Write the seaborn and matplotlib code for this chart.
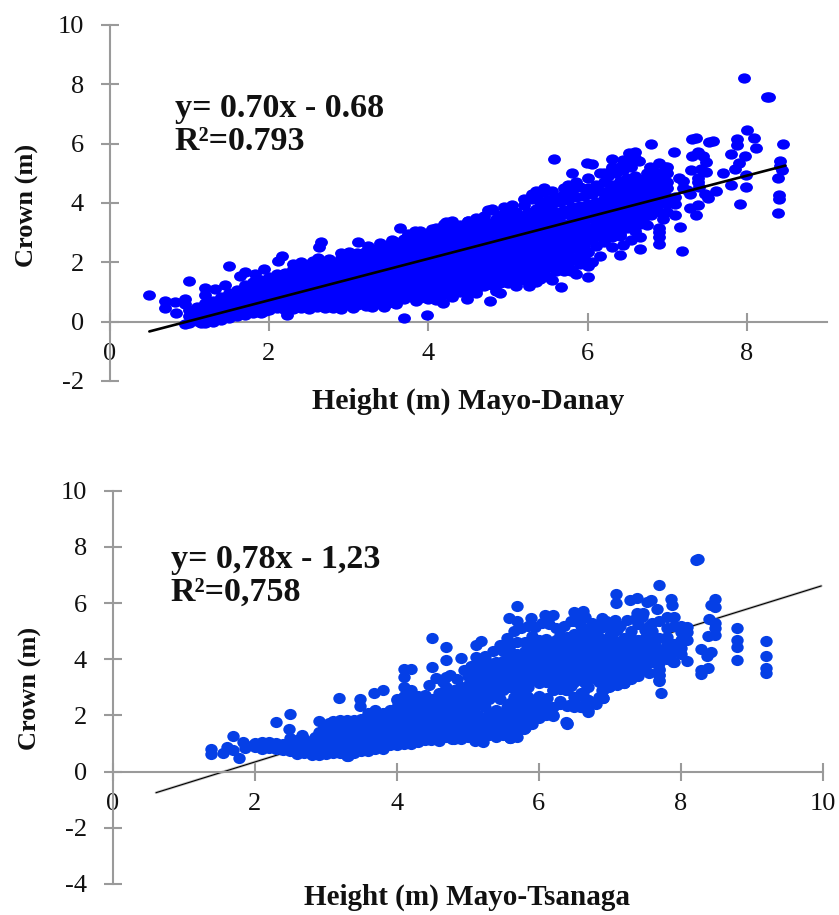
import matplotlib
matplotlib.use("Agg")
import matplotlib.pyplot as plt
import pandas as pd
import seaborn as sns
from matplotlib.markers import MarkerStyle
from matplotlib.path import Path
from matplotlib.transforms import Affine2D

# ---- Mayo-Danay: crown readings grouped by height
danay_heights = [1.0,1.1,1.2,1.3,1.4,1.5,1.6,1.7,1.8,1.9,2.0,2.1,2.2,2.3,2.4,2.5,2.6,2.7,2.8,2.9,
                 3.0,3.1,3.2,3.3,3.4,3.5,3.6,3.7,3.8,3.9,4.0,4.1,4.2,4.3,4.4,4.5,4.6,4.7,4.8,4.9,
                 5.0,5.1,5.2,5.3,5.4,5.5,5.6,5.7,5.8,5.9,6.0,6.1,6.2,6.3,6.4,6.5,6.6,6.7,6.8,6.9,7.0]
danay_crowns = [
 [-0.05,0.2,0.4],[0.02,0.28,0.5],[-0.04,0.18,0.42,0.62],[0.0,0.25,0.5,0.7],[0.05,0.3,0.58,0.82],
 [0.12,0.38,0.65,0.95],[0.2,0.45,0.72,1.08],[0.24,0.5,0.82,1.05,1.25],[0.28,0.55,0.8,1.1,1.35],
 [0.3,0.6,0.88,1.15,1.42],[0.4,0.68,0.95,1.22,1.5],[0.45,0.7,1.0,1.3,1.6],[0.4,0.72,1.02,1.33,1.65],
 [0.42,0.75,1.08,1.42,1.76],[0.45,0.78,1.12,1.48,1.9],[0.46,0.8,1.15,1.55,1.95],[0.5,0.85,1.2,1.6,2.0],
 [0.45,0.78,1.1,1.45,1.72,1.95],[0.46,0.82,1.15,1.5,1.8,1.98],[0.5,0.85,1.2,1.55,1.85,2.15],
 [0.55,0.88,1.22,1.58,1.9,2.25],[0.56,0.9,1.25,1.6,1.95,2.3],[0.58,0.95,1.3,1.65,2.0,2.35],
 [0.62,0.98,1.32,1.7,2.05,2.45],[0.6,1.0,1.35,1.75,2.15,2.55],[0.64,1.02,1.38,1.78,2.2,2.6],
 [0.75,1.1,1.45,1.82,2.25,2.7],[0.78,1.12,1.48,1.88,2.3,2.8],[0.82,1.18,1.52,1.92,2.35,2.65,2.9],
 [0.8,1.2,1.58,1.95,2.3,2.7,2.95],[0.76,1.15,1.55,1.98,2.38,2.72,3.0],[0.9,1.25,1.6,2.0,2.42,2.8,3.15],
 [0.92,1.28,1.65,2.05,2.45,2.85,3.3],[0.95,1.3,1.7,2.1,2.5,2.9,3.2],[1.0,1.35,1.72,2.12,2.55,2.95,3.25],
 [1.02,1.4,1.78,2.18,2.6,3.0,3.4],[1.08,1.45,1.82,2.22,2.62,3.05,3.35],[1.2,1.55,1.9,2.3,2.7,3.1,3.55],
 [1.25,1.6,1.95,2.35,2.75,3.2,3.78],[1.3,1.65,2.0,2.4,2.82,3.25,3.6],[1.32,1.7,2.05,2.45,2.9,3.3,3.72],
 [1.35,1.72,2.1,2.5,2.95,3.35,3.7],[1.4,1.78,2.15,2.55,3.0,3.45,3.92],[1.5,1.85,2.2,2.6,3.05,3.5,4.15],
 [1.55,1.9,2.28,2.7,3.12,3.58,4.05,4.35],[1.5,1.95,2.35,2.78,3.2,3.65,4.1],[1.7,2.05,2.42,2.85,3.25,3.7,4.2],
 [1.7,2.1,2.5,2.9,3.3,3.75,4.3],[1.75,2.15,2.55,2.95,3.4,3.85,4.4],[1.95,2.3,2.65,3.0,3.45,3.9,4.55],
 [1.95,2.35,2.75,3.1,3.5,3.95,4.5],[2.55,2.95,3.3,3.65,4.05,4.6],[2.7,3.05,3.4,3.75,4.15,4.72,5.0],
 [2.85,3.1,3.45,3.8,4.2,4.62,5.15],[2.95,3.2,3.55,3.9,4.3,4.75,5.2],[3.15,3.45,3.75,4.05,4.4,4.85,5.32],
 [3.3,3.55,3.85,4.15,4.48,4.9,5.5],[3.4,3.7,3.95,4.2,4.55,4.8],[3.6,3.8,4.05,4.3,4.6,4.85],
 [3.7,3.95,4.2,4.45,4.7,4.95],[3.7,3.95,4.2,4.5,4.72,5.0],
]
danay_heights_b = [1.05,1.15,1.25,1.35,1.45,1.55,1.65,1.75,1.85,1.95,2.05,2.15,2.25,2.35,2.45,2.55,2.65,2.75,2.85,2.95,
                   3.05,3.15,3.25,3.35,3.45,3.55,3.65,3.75,3.85,3.95,4.05,4.15,4.25,4.35,4.45,4.55,4.65,4.75,4.85,4.95,
                   5.05,5.15,5.25,5.35,5.45,5.55,5.65,5.75,5.85,5.95,6.05,6.15,6.25,6.35,6.45,6.55,6.65,6.75]
danay_crowns_b = [
 [0.1,0.33],[0.1,0.35],[0.12,0.38,0.55],[0.15,0.4,0.62],[0.18,0.45,0.7],[0.25,0.52,0.8],[0.32,0.6,0.9],
 [0.38,0.66,0.95,1.15],[0.42,0.7,0.98,1.22],[0.48,0.78,1.05,1.3],[0.55,0.82,1.12,1.38],[0.58,0.85,1.18,1.45],
 [0.58,0.9,1.22,1.5],[0.6,0.92,1.28,1.6],[0.62,0.98,1.32,1.7],[0.65,1.0,1.38,1.75],[0.68,1.02,1.4,1.8],
 [0.62,0.95,1.28,1.6,1.85],[0.65,1.0,1.35,1.68,1.92],[0.7,1.05,1.4,1.72,2.0],[0.72,1.08,1.42,1.75,2.08],
 [0.75,1.1,1.45,1.78,2.12],[0.8,1.12,1.5,1.85,2.2],[0.8,1.18,1.52,1.9,2.28],[0.82,1.2,1.58,1.95,2.35],
 [0.9,1.25,1.62,2.0,2.42],[0.95,1.3,1.65,2.05,2.48],[0.98,1.32,1.7,2.1,2.52],[1.0,1.38,1.75,2.15,2.55],
 [1.0,1.4,1.78,2.15,2.52,2.82],[1.02,1.38,1.78,2.2,2.58,2.88],[1.08,1.45,1.82,2.22,2.62,3.0],[1.12,1.5,1.88,2.28,2.68,3.05],
 [1.15,1.52,1.92,2.3,2.72,3.08],[1.2,1.58,1.95,2.35,2.78,3.12],[1.25,1.62,2.0,2.4,2.82,3.2],[1.3,1.68,2.05,2.45,2.88,3.25],
 [1.38,1.72,2.1,2.5,2.92,3.32],[1.42,1.78,2.15,2.55,3.0,3.45],[1.48,1.82,2.2,2.6,3.05,3.42],[1.52,1.9,2.28,2.72,3.12,3.52],
 [1.58,1.92,2.3,2.72,3.15,3.55],[1.65,2.0,2.38,2.8,3.25,3.7],[1.7,2.1,2.48,2.9,3.32,3.8],[1.72,2.15,2.55,3.0,3.42,3.88],
 [1.88,2.25,2.62,3.05,3.48,3.95],[1.92,2.3,2.7,3.1,3.55,4.02],[1.95,2.35,2.72,3.18,3.62,4.1],[2.12,2.48,2.82,3.22,3.68,4.2],
 [2.15,2.55,2.92,3.3,3.72,4.25],[2.75,3.12,3.48,3.85,4.3],[2.88,3.22,3.58,3.95,4.4],[3.0,3.3,3.65,4.02,4.42,4.9],
 [3.05,3.38,3.72,4.1,4.52,5.0],[3.3,3.6,3.9,4.22,4.62,5.1],[3.45,3.72,4.02,4.32,4.7,5.2],[3.55,3.82,4.08,4.38,4.72],
 [3.7,3.92,4.18,4.45,4.75],
]
danay_extra_height = [0.5,0.7,0.7,0.82,0.84,0.95,0.95,1.0,0.95,1.15,1.2,1.2,1.32,1.45,1.5,1.7,1.64,1.82,1.94,
 2.17,2.12,2.65,2.63,2.62,3.12,3.64,3.83,2.23,1.95,3.69,3.44,3.22,
 7.96,8.25,8.28,8.0,8.09,7.88,8.11,7.88,8.45,8.41,8.41,8.44,8.39,8.4,8.4,8.39,7.91,7.99,7.8,7.97,7.8,7.85,7.9,7.99,
 7.7,7.61,7.51,7.47,7.36,7.29,7.38,7.28,7.57,7.52,7.36,7.31,7.31,7.38,7.45,7.49,7.3,7.49,7.38,7.38,7.2,7.09,6.8,
 7.18,7.16,7.1,7.1,6.89,6.89,6.89,6.89,6.66,6.66,6.66,6.59,6.41,6.41,6.01,6.0,5.67,5.79,5.4,5.27,4.9,4.77,4.49,4.19,
 3.98,5.58,5.99,6.05,6.3,6.52,6.6,6.78,6.9,6.97,5.81,5.75,5.47,5.3,4.8,4.5,4.22,7.1,7.2,7.15,7.05,6.95,7.4,7.25,7.42]
danay_extra_crown = [0.89,0.68,0.45,0.65,0.3,0.78,0.6,1.36,-0.08,-0.05,1.13,0.9,1.1,1.25,1.87,1.67,1.55,1.6,1.77,
 2.21,2.05,2.7,2.53,2.13,2.67,3.17,3.07,0.22,0.35,0.13,0.5,0.52,
 8.2,7.56,7.58,6.45,6.19,6.16,5.84,5.95,5.99,5.41,5.25,5.1,4.83,4.27,4.15,3.66,3.95,4.54,4.62,5.58,5.65,5.15,5.35,4.95,
 5.0,4.39,4.16,4.32,3.6,3.82,3.93,4.3,6.1,6.05,6.18,6.15,5.57,5.72,5.6,5.37,5.1,5.05,4.85,4.7,4.75,5.71,5.99,
 2.37,3.2,3.6,3.95,3.15,3.03,2.85,2.63,2.44,2.85,3.3,3.05,2.25,2.9,1.5,1.88,1.18,1.7,1.44,1.2,0.96,0.7,0.75,0.62,
 0.24,5.48,5.35,5.3,5.49,5.69,5.71,5.21,5.35,5.22,5.0,4.6,4.4,4.3,3.8,3.39,3.37,4.2,4.5,4.85,4.05,4.9,4.55,4.45,5.15]
danay_fringe_height = [2.3,2.4,2.55,2.75,2.9,3.0,3.25,3.4,3.55,3.75,3.9,4.05,4.3,4.6,4.75,4.95,5.05,5.2,5.35,5.45,5.55,5.7,5.85,6.0,6.15,6.3,6.45,6.55,6.65,6.75,6.85,7.0,
 2.5,2.9,3.05,3.3,3.6,3.85,4.1,4.3,4.6,4.85,5.1,5.35,5.55,5.85,6.05,6.15,6.3,6.45,6.55,6.75,6.95]
danay_fringe_crown = [1.95,2.02,2.05,2.1,2.3,2.35,2.55,2.65,2.75,2.95,3.05,3.12,3.4,3.5,3.75,3.85,3.92,4.15,4.4,4.5,4.42,4.5,4.7,4.85,5.0,5.2,5.45,5.55,5.4,5.0,5.05,5.2,
 0.42,0.42,0.45,0.5,0.58,0.68,0.72,0.82,0.95,1.05,1.2,1.35,1.4,1.6,2.0,2.2,2.5,2.6,2.75,3.25,3.45]
danay_line_x = [0.5, 8.48]
danay_line_y = [-0.33, 5.26]

# ---- Mayo-Tsanaga: crown readings grouped by height
tsanaga_heights = [2.0,2.1,2.2,2.3,2.4,2.5,2.6,2.7,2.8,2.9,3.0,3.1,3.2,3.3,3.4,3.5,3.6,3.7,3.8,3.9,
                   4.0,4.1,4.2,4.3,4.4,4.5,4.6,4.7,4.8,4.9,5.0,5.1,5.2,5.3,5.4,5.5,5.6,5.7,5.8,5.9,
                   6.0,6.1,6.2,6.3,6.4,6.5,6.6,6.7,6.8,6.9,7.0,7.1,7.2,7.3,7.4,7.5,7.6,7.7,7.8,7.9,8.0]
tsanaga_crowns = [
 [0.88,1.02],[0.82,1.05],[0.85,1.04],[0.82,1.02],[0.78,1.0],[0.72,0.98,1.18],[0.62,0.85,1.12],[0.65,0.9,1.15],
 [0.6,0.82,1.05],[0.6,0.85,1.1,1.4],[0.62,0.9,1.2,1.62],[0.68,0.95,1.25,1.55,1.8],[0.66,0.95,1.25,1.55,1.82],
 [0.55,0.85,1.15,1.5,1.85],[0.68,0.98,1.3,1.6,1.85],[0.72,1.02,1.35,1.65,1.86],[0.72,1.05,1.35,1.7,2.1],
 [0.82,1.1,1.42,1.75,2.2],[0.82,1.12,1.45,1.8,2.1],[0.95,1.25,1.55,1.85,2.2],[0.95,1.25,1.55,1.88,2.3,2.55],
 [0.98,1.3,1.6,1.92,2.3,2.7,3.0],[1.0,1.32,1.65,1.95,2.25,2.6,2.92],[1.05,1.35,1.7,2.0,2.35,2.7],
 [1.12,1.42,1.75,2.05,2.4,2.72],[1.15,1.48,1.8,2.1,2.45,2.6],[1.18,1.5,1.85,2.15,2.5,2.8],[1.22,1.55,1.85,2.2,2.6,3.0],
 [1.15,1.5,1.9,2.25,2.55,2.9],[1.3,1.6,1.95,2.3,2.7,2.82],[1.28,1.55,1.9,2.4,2.75,3.1,3.4],[1.42,1.7,2.3,2.7,3.05,3.35,3.62],
 [1.1,1.5,1.85,2.55,2.85,3.15,3.5,3.75,4.0],[1.52,1.8,2.05,2.6,2.95,3.2,3.55,3.85],[1.45,1.7,2.2,2.75,3.05,3.3,3.6,3.9],
 [1.42,1.75,2.05,2.9,3.15,3.4,3.65,3.95,4.3],[1.2,1.5,1.8,2.15,2.45,3.0,3.25,3.5,3.8,4.1,4.5],[1.45,1.72,2.0,2.35,2.75,3.1,3.4,3.7,3.95,4.2,4.62],
 [1.55,1.85,2.15,2.5,2.8,3.2,3.45,3.7,4.0,4.3,4.6],[1.95,2.2,2.55,3.3,3.55,3.8,4.05,4.35,4.82],[2.1,2.35,2.7,3.15,3.4,3.65,3.9,4.15,4.42,4.7],
 [2.0,2.6,3.2,3.45,3.7,3.95,4.2,4.5,4.72],[2.0,2.9,3.25,3.5,3.75,4.0,4.25,4.55],[2.4,2.95,3.3,3.55,3.8,4.05,4.3,4.6,4.85],
 [1.72,2.35,2.9,3.15,3.45,3.7,3.95,4.2,4.5,4.8],[2.3,2.65,3.2,3.45,3.75,4.05,4.3,4.6,4.9,5.35],[2.3,2.8,3.25,3.5,3.8,4.1,4.35,4.65,4.95,5.2],
 [2.2,2.55,3.0,3.3,3.55,3.85,4.15,4.4,4.7,5.0],[3.3,3.6,3.85,4.15,4.45,4.72,4.98],[2.62,2.92,3.3,3.55,3.85,4.1,4.4,4.65,5.15],
 [3.05,3.3,3.55,3.8,4.05,4.3,4.6,4.85],[3.35,3.6,3.85,4.1,4.35,4.6,5.05],[3.15,3.5,3.75,4.0,4.25,4.5,4.75],
 [3.45,3.7,3.95,4.2,4.45,4.75,5.0],[3.5,3.72,3.98,4.2,4.45,4.7,5.25],[3.7,3.92,4.15,4.4,4.75,5.05],
 [3.9,4.1,4.3,4.62,5.0,5.3],[3.25,3.45,3.65,3.9,4.1,4.35,4.75,5.35],[4.0,4.28,4.5,4.78,5.12,5.5],
 [3.92,4.25,4.55,5.18,5.5],[4.2,4.4,4.7,4.98,5.2],
]
tsanaga_heights_b = [2.85,2.95,3.05,3.15,3.25,3.35,3.45,3.55,3.65,3.75,3.85,3.95,4.05,4.15,4.25,4.35,4.45,4.55,4.65,4.75,
                     4.85,4.95,5.05,5.15,5.25,5.35,5.45,5.55,5.65,5.75,5.85,5.95,6.05,6.15,6.25,6.35,6.45,6.55,6.65,6.75,
                     6.85,6.95,7.05,7.15,7.25,7.35,7.45]
tsanaga_crowns_b = [
 [0.72,0.95,1.22],[0.75,1.0,1.3],[0.78,1.05,1.38,1.72],[0.82,1.1,1.42,1.7],[0.8,1.1,1.4,1.7],[0.7,1.0,1.32,1.68],
 [0.85,1.15,1.45,1.75],[0.88,1.2,1.5,1.78],[0.9,1.22,1.55,1.92],[0.98,1.28,1.6,1.98],[1.0,1.3,1.62,1.95],
 [1.1,1.4,1.7,2.05],[1.12,1.42,1.72,2.1,2.4],[1.15,1.48,1.78,2.12,2.5],[1.18,1.5,1.82,2.1,2.45],[1.22,1.55,1.85,2.2,2.55],
 [1.28,1.6,1.9,2.22,2.58],[1.32,1.65,1.98,2.3],[1.35,1.68,2.0,2.35,2.65],[1.38,1.7,2.05,2.4,2.8],[1.35,1.72,2.08,2.42,2.75],
 [1.45,1.78,2.12,2.5],[2.1,2.5,2.92,3.25],[1.55,2.0,2.5,2.88,3.2,3.5],[1.7,2.3,2.7,3.0,3.38,3.62],[1.65,1.95,2.75,3.1,3.45,3.72],
 [1.6,1.9,2.6,2.95,3.2,3.5,3.75],[1.62,1.95,2.3,3.1,3.38,3.62,3.95],[1.35,1.65,2.0,2.3,2.65,3.25,3.55,3.85,4.2],
 [1.6,1.9,2.2,2.6,2.95,3.3,3.6,3.85,4.1],[1.7,2.0,2.3,2.65,3.0,3.35,3.6,3.85,4.15],[2.05,2.4,3.4,3.68,3.92,4.2,4.5],
 [3.3,3.52,3.78,4.0,4.28,4.55],[3.35,3.6,3.85,4.1,4.35,4.62],[3.15,3.4,3.65,3.9,4.15,4.4,4.7],[3.3,3.58,3.85,4.1,4.35,4.68],
 [3.05,3.3,3.58,3.82,4.08,4.35,4.65],[3.35,3.6,3.9,4.2,4.45,4.75],[3.15,3.4,3.68,3.95,4.22,4.5,4.8],[3.45,3.7,4.0,4.28,4.55,4.85],
 [3.2,3.45,3.72,3.98,4.25,4.52,4.8],[3.45,3.7,3.95,4.22,4.5],[3.4,3.68,3.92,4.18,4.45,4.72],[3.45,3.72,3.98,4.22,4.48],
 [3.55,3.8,4.05,4.3,4.55],[3.6,3.85,4.1,4.35,4.6],[3.75,4.0,4.25,4.5],
]
tsanaga_extra_height = [1.39,1.39,1.56,1.61,1.69,1.7,1.78,1.84,1.86,1.98,2.3,2.5,2.49,2.66,2.5,2.9,3.19,3.49,3.49,3.68,3.8,
 4.1,4.2,4.1,4.0,3.31,8.24,8.21,7.69,7.09,7.09,7.29,7.38,7.53,7.58,7.86,7.88,7.67,5.69,5.58,5.89,5.7,6.09,6.2,6.5,6.62,6.89,
 7.08,7.39,7.47,8.49,8.42,8.49,8.4,8.49,8.49,8.49,8.38,8.09,8.09,8.09,8.79,8.79,8.79,8.79,9.2,9.2,9.2,9.2,8.29,8.42,8.37,
 8.39,8.29,8.29,8.09,7.89,7.72,7.69,7.7,7.7,7.69,7.69,7.2,6.99,6.91,6.89,6.7,6.59,6.7,6.63,6.4,6.38,6.2,6.09,6.12,6.42,6.38,6.2,
 4.5,4.7,4.7,4.9,5.11,5.19,5.11,4.5,4.7,4.9,5.22,5.6,4.78,4.48,5.0,5.79]
tsanaga_extra_crown = [0.79,0.62,0.65,0.89,1.28,0.77,0.47,1.07,0.83,0.95,1.78,2.05,1.5,1.3,0.77,1.81,2.61,2.57,2.34,2.81,2.9,
 3.67,3.67,3.38,2.6,0.56,7.57,7.55,6.63,6.31,6.01,6.11,6.17,6.05,6.11,6.13,5.93,5.78,5.9,5.48,5.46,5.37,5.58,5.56,5.69,5.72,5.46,
 5.4,5.63,5.63,6.13,5.93,5.85,5.42,5.28,5.1,4.86,4.83,5.14,4.98,4.69,5.12,4.69,4.45,3.97,4.65,4.12,3.68,3.52,4.35,4.27,4.12,
 3.7,3.62,3.48,3.95,3.91,2.79,3.24,3.44,3.62,3.86,4.09,3.17,3.0,2.61,2.9,2.14,2.31,2.55,2.79,1.7,1.75,1.99,2.02,2.61,2.37,2.9,2.9,
 4.74,4.42,3.97,4.03,4.5,4.66,4.09,3.74,3.36,3.02,1.07,1.19,1.15,1.13,1.25,1.52]
tsanaga_fringe_height = [4.45,4.55,4.65,4.75,4.85,4.95,5.05,5.15,5.25,5.35,5.45,5.55,5.65,5.75,5.85,5.95,6.05,6.15,6.25,6.35,6.45,6.55,6.65,6.75,6.85,6.95,7.05,7.15,7.25,7.35,7.45,7.55,
 5.3,5.4,5.5,5.7,5.9,6.0,6.1,6.2,6.3,6.5,6.6,6.8,6.85,7.0,7.1,7.2,7.3,7.4,7.55,4.6,4.9,5.1,5.2]
tsanaga_fringe_crown = [3.1,3.35,3.2,3.45,3.3,3.6,3.75,3.9,4.1,4.3,4.5,4.75,5.0,5.1,5.2,5.15,5.3,5.25,5.1,5.2,5.35,5.5,5.5,5.3,5.25,5.35,5.1,5.2,5.4,5.45,5.5,5.2,
 1.3,1.25,1.3,1.25,1.7,1.9,2.3,2.3,2.5,2.45,2.7,2.4,2.65,3.2,3.1,3.35,3.3,3.4,3.5,1.1,1.15,1.1,1.35]
tsanaga_line_x = [0.61, 9.98]
tsanaga_line_y = [-0.75, 6.61]

x_label_top = "Height (m) Mayo-Danay"
x_label_bottom = "Height (m) Mayo-Tsanaga"
y_label = "Crown (m)"
top_yticks = [-2, 0, 2, 4, 6, 8, 10]
top_xticks = [0, 2, 4, 6, 8]
bottom_yticks = [-4, -2, 0, 2, 4, 6, 8, 10]
bottom_xticks = [0, 2, 4, 6, 8, 10]


def flatten(*groups):
    xs, ys = [], []
    for heights, crowns in groups:
        for h, col in zip(heights, crowns):
            for c in (col if isinstance(col, list) else [col]):
                xs.append(h)
                ys.append(c)
    return pd.DataFrame({"height": xs, "crown": ys})


sns.set_style("white")
plt.rcParams["font.family"] = ["Liberation Serif", "DejaVu Serif"]
plt.rcParams["axes.unicode_minus"] = False

W, H = 839, 915
fig = plt.figure(figsize=(W / 100, H / 100), dpi=100)


def make_axes(l, r, t, b):
    return fig.add_axes([l / W, 1 - b / H, (r - l) / W, (b - t) / H])


ellipse = MarkerStyle(Path.unit_circle().transformed(Affine2D().scale(1.0, 0.8)))
ellipse2 = MarkerStyle(Path.unit_circle().transformed(Affine2D().scale(1.0, 0.9)))
GRAY = "#9a9a9a"


def style(ax, xlim, ylim, xticks, yticks):
    ax.set_xlim(*xlim)
    ax.set_ylim(*ylim)
    ax.set_xticks(xticks)
    ax.set_yticks(yticks)
    ax.patch.set_alpha(0)
    for s in ["top", "right"]:
        ax.spines[s].set_visible(False)
    ax.spines["bottom"].set_position(("data", 0))
    for s in ["left", "bottom"]:
        ax.spines[s].set_color(GRAY)
        ax.spines[s].set_linewidth(1.5)
    ax.tick_params(axis="x", direction="inout", length=13, width=1.5, color=GRAY,
                   pad=9, labelsize=19, labelcolor="#111111", bottom=True)
    ax.tick_params(axis="y", direction="inout", length=13, width=1.5, color=GRAY,
                   pad=12, labelsize=19, labelcolor="#111111", left=True)
    ax.set_ylabel("")
    ax.set_xlabel("")


# top panel
ax1 = make_axes(109.5, 826.7, 25, 381)
sns.scatterplot(data=flatten((danay_heights, danay_crowns), (danay_heights_b, danay_crowns_b),
                             (danay_extra_height, danay_extra_crown),
                             (danay_fringe_height, danay_fringe_crown)),
                x="height", y="crown", ax=ax1, color="#0000FF", marker=ellipse, s=86,
                linewidth=0, zorder=3, clip_on=False, legend=False)
sns.lineplot(x=danay_line_x, y=danay_line_y, ax=ax1, color="black", linewidth=1.9,
             errorbar=None, zorder=4, legend=False)
style(ax1, (0, 9), (-2, 10), top_xticks, top_yticks)
ax1.text(0.82, 7.2, "y= 0.70x - 0.68", fontsize=24.5, fontweight="bold", va="center", color="#111111")
ax1.text(0.82, 6.08, "R²=0.793", fontsize=24.5, fontweight="bold", va="center", color="#111111")
fig.text(468 / W, 1 - 401 / H, x_label_top, fontsize=21.5, fontweight="bold",
         ha="center", va="center", color="#111111")
fig.text(27 / W, 1 - 205 / H, y_label, fontsize=19, fontweight="bold", rotation=90,
         ha="center", va="center", color="#111111")

# bottom panel
ax2 = make_axes(112.7, 822.7, 490.7, 884)
sns.lineplot(x=tsanaga_line_x, y=tsanaga_line_y, ax=ax2, color="#c4c4c4", linewidth=2.0,
             errorbar=None, zorder=2, legend=False)
sns.lineplot(x=tsanaga_line_x, y=tsanaga_line_y, ax=ax2, color="black", linewidth=0.8,
             errorbar=None, zorder=2.1, legend=False)
sns.scatterplot(data=flatten((tsanaga_heights, tsanaga_crowns), (tsanaga_heights_b, tsanaga_crowns_b),
                             (tsanaga_extra_height, tsanaga_extra_crown),
                             (tsanaga_fringe_height, tsanaga_fringe_crown)),
                x="height", y="crown", ax=ax2, color="#053FE6", marker=ellipse2, s=80,
                linewidth=0, zorder=3, clip_on=False, legend=False)
style(ax2, (0, 10), (-4, 10), bottom_xticks, bottom_yticks)
ax2.text(0.82, 7.54, "y= 0,78x - 1,23", fontsize=24.5, fontweight="bold", va="center", color="#111111")
ax2.text(0.82, 6.4, "R²=0,758", fontsize=24.5, fontweight="bold", va="center", color="#111111")
fig.text(467 / W, 1 - 897 / H, x_label_bottom, fontsize=21, fontweight="bold",
         ha="center", va="center", color="#111111")
fig.text(30 / W, 1 - 688 / H, y_label, fontsize=19, fontweight="bold", rotation=90,
         ha="center", va="center", color="#111111")

fig.savefig("out.png", dpi=100)
